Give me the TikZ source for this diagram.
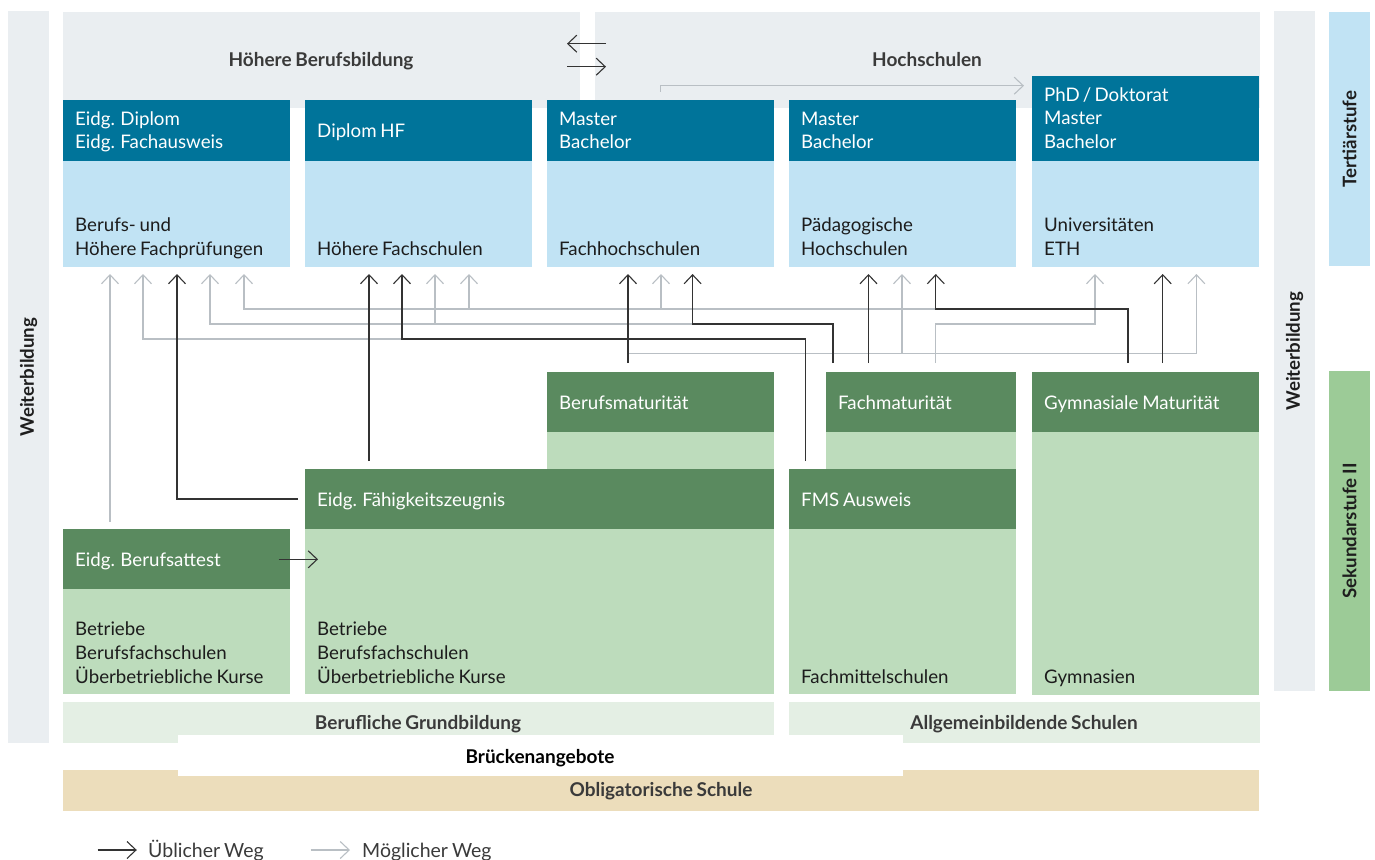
\documentclass[tikz,border=0pt]{standalone}
\usepackage{fontspec}
\setmainfont{Lato}[WordSpace=0.8]
\usetikzlibrary{arrows.meta}
\definecolor{panelgray}{HTML}{EAEEF1}
\definecolor{teal}{HTML}{00749A}
\definecolor{lightblue}{HTML}{C1E3F4}
\definecolor{dkgreen}{HTML}{5A8A5F}
\definecolor{ltgreen}{HTML}{BDDCBC}
\definecolor{bandgreen}{HTML}{E4EFE4}
\definecolor{sand}{HTML}{ECDDBB}
\definecolor{sekgreen}{HTML}{9CCB97}
\definecolor{labgray}{HTML}{3A3A3A}
\definecolor{vlabcol}{HTML}{1E1E1E}
\definecolor{txtblack}{HTML}{1C1C1C}
\definecolor{arrblack}{HTML}{333333}
\definecolor{arrgray}{HTML}{B9BFC4}
\newcommand\linest[1]{\begin{tabular}[t]{@{}l@{}}#1\end{tabular}}
\newcommand\linesb[1]{\begin{tabular}[b]{@{}l@{}}#1\end{tabular}}
\tikzset{
  box/.style={anchor=north west, inner sep=0pt, outer sep=0pt, draw=none},
  txt/.style={anchor=base west, inner sep=0pt, font=\fontsize{18.7}{23.8}\selectfont},
  wtxt/.style={txt, text=white},
  btxt/.style={txt, text=txtblack},
  band/.style={anchor=base, inner sep=0pt, font=\bfseries\fontsize{19}{22}\selectfont, text=labgray},
  vlab/.style={rotate=90, inner sep=0pt, font=\bfseries\fontsize{18.7}{22}\selectfont, text=vlabcol},
  usual/.style={draw=arrblack, line width=1.1pt, -{Straight Barb[length=9pt,width=17pt,line width=1.1pt]}},
  possible/.style={draw=arrgray, line width=1.1pt, -{Straight Barb[length=9pt,width=17pt,line width=1.1pt]}}
}
\begin{document}
\begin{tikzpicture}[x=1pt,y=-1pt]
\useasboundingbox (0,0) rectangle (1375,859);
% side bars
\node[box, fill=panelgray, minimum width=41pt, minimum height=732pt] (wbl) at (8,11) {};
\node[vlab] (wbltxt) at (wbl.center) {Weiterbildung};
\node[box, fill=panelgray, minimum width=41pt, minimum height=680pt] (wbr) at (1274,11) {};
\node[vlab] (wbrtxt) at (wbr.center) {Weiterbildung};
\node[box, fill=lightblue, minimum width=41pt, minimum height=254pt] (tert) at (1329,12) {};
\node[vlab] (terttxt) at (tert.center) {Tertiärstufe};
\node[box, fill=sekgreen, minimum width=41pt, minimum height=320pt] (sek) at (1329,371) {};
\node[vlab] (sektxt) at (sek.center) {Sekundarstufe II};
% top panels
\node[box, fill=panelgray, minimum width=517pt, minimum height=96pt] (hbb) at (63,12) {};
\node[box, fill=panelgray, minimum width=665pt, minimum height=96pt] (hs) at (595,12) {};
\node[band] (hbbtxt) at (321,66.5) {Höhere Berufsbildung};
\node[band] (hstxt) at (927,66.5) {Hochschulen};
% tertiary boxes
\node[box, fill=teal, minimum width=227pt, minimum height=61pt] (t1h) at (63,100) {};
\node[box, fill=lightblue, minimum width=227pt, minimum height=106pt] (t1b) at (63,161) {};
\node[box, fill=teal, minimum width=227pt, minimum height=61pt] (t2h) at (305,100) {};
\node[box, fill=lightblue, minimum width=227pt, minimum height=106pt] (t2b) at (305,161) {};
\node[box, fill=teal, minimum width=227pt, minimum height=61pt] (t3h) at (547,100) {};
\node[box, fill=lightblue, minimum width=227pt, minimum height=106pt] (t3b) at (547,161) {};
\node[box, fill=teal, minimum width=227pt, minimum height=61pt] (t4h) at (789,100) {};
\node[box, fill=lightblue, minimum width=227pt, minimum height=106pt] (t4b) at (789,161) {};
\node[box, fill=teal, minimum width=227pt, minimum height=85pt] (t5h) at (1032,76) {};
\node[box, fill=lightblue, minimum width=227pt, minimum height=106pt] (t5b) at (1032,161) {};
\node[wtxt] (t1ht) at (75,125) {\linest{Eidg. Diplom\\Eidg. Fachausweis}};
\node[wtxt] (t2ht) at (317,137) {Diplom HF};
\node[wtxt] (t3ht) at (559,125) {\linest{Master\\Bachelor}};
\node[wtxt] (t4ht) at (801,125) {\linest{Master\\Bachelor}};
\node[wtxt] (t5ht) at (1044,101) {\linest{PhD\,/\,Doktorat\\Master\\Bachelor}};
\node[btxt] (t1bt) at (75,255) {\linesb{Berufs- und\\Höhere Fachprüfungen}};
\node[btxt] (t2bt) at (317,255) {Höhere Fachschulen};
\node[btxt] (t3bt) at (559,255) {Fachhochschulen};
\node[btxt] (t4bt) at (801,255) {\linesb{Pädagogische\\Hochschulen}};
\node[btxt] (t5bt) at (1044,255) {\linesb{Universitäten\\ETH}};
% secondary boxes
\node[box, fill=ltgreen, minimum width=227pt, minimum height=97pt] (bmb) at (547,372) {};
\node[box, fill=dkgreen, minimum width=227pt, minimum height=60pt] (bmh) at (547,372) {};
\node[box, fill=ltgreen, minimum width=190pt, minimum height=97pt] (fmb) at (826,372) {};
\node[box, fill=dkgreen, minimum width=190pt, minimum height=60pt] (fmh) at (826,372) {};
\node[box, fill=ltgreen, minimum width=227pt, minimum height=323pt] (gmb) at (1032,372) {};
\node[box, fill=dkgreen, minimum width=227pt, minimum height=60pt] (gmh) at (1032,372) {};
\node[box, fill=ltgreen, minimum width=469pt, minimum height=225pt] (efzb) at (305,469) {};
\node[box, fill=dkgreen, minimum width=469pt, minimum height=60pt] (efzh) at (305,469) {};
\node[box, fill=ltgreen, minimum width=227pt, minimum height=225pt] (fmsb) at (789,469) {};
\node[box, fill=dkgreen, minimum width=227pt, minimum height=60pt] (fmsh) at (789,469) {};
\node[box, fill=ltgreen, minimum width=227pt, minimum height=165pt] (bab) at (63,529) {};
\node[box, fill=dkgreen, minimum width=227pt, minimum height=60pt] (bah) at (63,529) {};
\node[wtxt] (bmt) at (559,409) {Berufsmaturität};
\node[wtxt] (fmt) at (838,409) {Fachmaturität};
\node[wtxt] (gmt) at (1044,409) {Gymnasiale Maturität};
\node[wtxt] (efzt) at (317,506) {Eidg. Fähigkeitszeugnis};
\node[wtxt] (fmst) at (801,506) {FMS Ausweis};
\node[wtxt] (bat) at (75,566) {Eidg. Berufsattest};
\node[btxt] (bab2) at (75,683) {\linesb{Betriebe\\Berufsfachschulen\\Überbetriebliche Kurse}};
\node[btxt] (efzb2) at (317,683) {\linesb{Betriebe\\Berufsfachschulen\\Überbetriebliche Kurse}};
\node[btxt] (fmsb2) at (801,683) {Fachmittelschulen};
\node[btxt] (gmb2) at (1044,683) {Gymnasien};
% bottom bands
\node[box, fill=bandgreen, minimum width=711pt, minimum height=41pt] (bg) at (63,702) {};
\node[box, fill=bandgreen, minimum width=471pt, minimum height=41pt] (as) at (789,702) {};
\node[box, fill=sand, minimum width=1196pt, minimum height=41pt] (os) at (63,770) {};
\node[box, fill=white, minimum width=725pt, minimum height=41pt] (br) at (178,735) {};
\node[band] (bgt) at (418,729) {Berufliche Grundbildung};
\node[band] (ast) at (1024,729) {Allgemeinbildende Schulen};
\node[band, text=black] (brt) at (540,763) {Brückenangebote};
\node[band] (ost) at (661,796.5) {Obligatorische Schule};
% coordinates
\coordinate (L1) at (0,309);
\coordinate (L2) at (0,324);
\coordinate (L3) at (0,339);
\coordinate (L4) at (0,353.7);
\coordinate (tBP1) at (110,274);
\coordinate (tBP2) at (143,274);
\coordinate (tBP3) at (177,274);
\coordinate (tBP4) at (210,274);
\coordinate (tBP5) at (244,274);
\coordinate (tHF1) at (369,274);
\coordinate (tHF2) at (402,274);
\coordinate (tHF3) at (435,274);
\coordinate (tHF4) at (469,274);
\coordinate (tFH1) at (628,274);
\coordinate (tFH2) at (661,274);
\coordinate (tFH3) at (692.6,274);
\coordinate (tPH1) at (868.5,274);
\coordinate (tPH2) at (902,274);
\coordinate (tPH3) at (935.8,274);
\coordinate (tU1) at (1095,274);
\coordinate (tU2) at (1162.7,274);
\coordinate (tU3) at (1196.4,274);
\coordinate (sBA) at (110,521.7);
\coordinate (sEFZa) at (298,499);
\coordinate (sEFZb) at (369,461);
\coordinate (sFMS) at (805.7,461);
\coordinate (sFMa) at (833,363);
\coordinate (sFMb) at (868.5,363);
\coordinate (sFMc) at (935.8,363);
\coordinate (sGMa) at (1128,363);
\coordinate (sGMb) at (1162.7,363);
\coordinate (sBM) at (628,363);
% possible paths (grey)
\draw[possible] (sBA) -- (tBP1);
\draw[possible] (tHF2 |- L3) -| (tBP2);
\draw[possible] (tFH3 |- L2) -| (tBP4);
\draw[possible] (tHF3 |- L2) -- (tHF3);
\draw[possible] (sFMc) |- (tU1 |- L2) -- (tU1);
\draw[possible] (tPH3 |- L1) -| (tBP5);
\draw[possible] (tHF4 |- L1) -- (tHF4);
\draw[possible] (tFH2 |- L1) -- (tFH2);
\draw[possible] (sBM |- L4) -| (tU3);
\draw[possible] (tPH2 |- L4) -- (tPH2);
% usual paths (black)
\draw[usual] (sEFZa) -| (tBP3);
\draw[usual] (sEFZb) -- (tHF1);
\draw[usual] (sFMS) |- (tHF2 |- L3) -- (tHF2);
\draw[usual] (sFMa) |- (tFH3 |- L2) -- (tFH3);
\draw[usual] (sFMb) -- (tPH1);
\draw[usual] (sGMa) |- (tPH3 |- L1) -- (tPH3);
\draw[usual] (sGMb) -- (tU2);
\draw[usual] (sBM) -- (tFH1);
% top arrows
\coordinate (ha) at (567,43.7);
\coordinate (hb) at (606,43.7);
\coordinate (hc) at (567,66.7);
\coordinate (hd) at (606,66.7);
\draw[usual] (hb) -- (ha);
\draw[usual] (hc) -- (hd);
\coordinate (gs) at (660.7,91.7);
\coordinate (ge) at (1024,85.7);
\draw[possible] (gs) |- (ge);
% Berufsattest to EFZ
\coordinate (baA) at (278.6,559.3);
\coordinate (baB) at (318,559.3);
\draw[usual] (baA) -- (baB);
% legend
\coordinate (lg1a) at (97.5,850);
\coordinate (lg1b) at (136.8,850);
\coordinate (lg2a) at (310.7,850);
\coordinate (lg2b) at (350,850);
\draw[usual] (lg1a) -- (lg1b);
\draw[possible] (lg2a) -- (lg2b);
\node[txt, text=labgray, font=\fontsize{19.5}{23}\selectfont] (lgt1) at (148,857) {Üblicher Weg};
\node[txt, text=labgray, font=\fontsize{19.5}{23}\selectfont] (lgt2) at (362,857) {Möglicher Weg};
\end{tikzpicture}
\end{document}
